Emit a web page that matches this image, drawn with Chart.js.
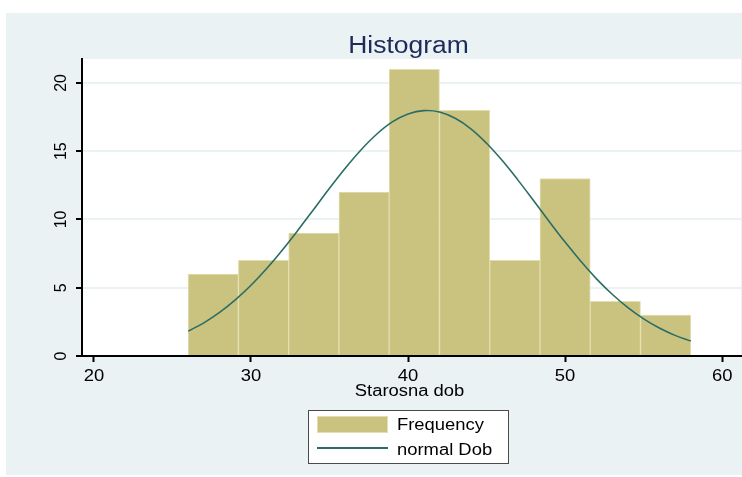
<!DOCTYPE html>
<html>
<head>
<meta charset="utf-8">
<script src="https://cdn.jsdelivr.net/npm/chart.js@4.4.0/dist/chart.umd.min.js"></script>
<style>
  html, body { margin: 0; padding: 0; background: #ffffff; }
  canvas { display: block; }
</style>
</head>
<body>
<canvas id="myChart" width="742" height="477"></canvas>
<script>
// histogram bins (Starosna dob) and counts
var binEdges = [26, 29.2, 32.4, 35.6, 38.8, 42, 45.2, 48.4, 51.6, 54.8, 58];
var counts = [6, 7, 9, 12, 21, 18, 7, 13, 4, 3];

// normal curve
var curveX = [26, 27, 28, 29, 30, 31, 32, 33, 34, 35, 36, 37, 38, 39, 40, 41,
              42, 43, 44, 45, 46, 47, 48, 49, 50, 51, 52, 53, 54, 55, 56, 57, 58];
var curveY = [1.82, 2.43, 3.19, 4.11, 5.18, 6.41, 7.77, 9.23, 10.75, 12.28, 13.75, 15.09, 16.24, 17.14, 17.72, 17.97,
              17.87, 17.41, 16.64, 15.58, 14.31, 12.88, 11.37, 9.83, 8.34, 6.94, 5.65, 4.52, 3.54, 2.72, 2.05, 1.51, 1.09];

var xTicks = [20, 30, 40, 50, 60];
var yTicks = [0, 5, 10, 15, 20];

var titleText = 'Histogram';
var xTitle = 'Starosna dob';

var barColor = '#cac380';
var lineColor = '#2b6d64';
var fontName = '"Liberation Sans", Arial, sans-serif';
var textStretch = 1.15;

var barData = [];
for (var i = 0; i < counts.length; i++) {
    barData.push({ x: (binEdges[i] + binEdges[i + 1]) / 2, y: counts[i] });
}
var lineData = [];
for (var j = 0; j < curveX.length; j++) {
    lineData.push({ x: curveX[j], y: curveY[j] });
}

function stretchText(ctx, text, x, y, size, color, align) {
    ctx.save();
    ctx.font = size + 'px ' + fontName;
    ctx.fillStyle = color;
    ctx.textBaseline = 'alphabetic';
    var w = ctx.measureText(text).width * textStretch;
    var left = x;
    if (align === 'center') left = x - w / 2;
    ctx.translate(left, y);
    ctx.scale(textStretch, 1);
    ctx.textAlign = 'left';
    ctx.fillText(text, 0, 0);
    ctx.restore();
}

var backgroundPlugin = {
    id: 'stataBackground',
    beforeDraw: function (chart) {
        var ctx = chart.ctx;
        var a = chart.chartArea;
        ctx.save();
        ctx.fillStyle = '#ffffff';
        ctx.fillRect(0, 0, chart.width, chart.height);
        ctx.fillStyle = '#eaf2f3';
        ctx.fillRect(6, 13, chart.width - 6, chart.height - 15);
        ctx.fillStyle = '#ffffff';
        ctx.fillRect(a.left, a.top, a.right - a.left, a.bottom - a.top);
        ctx.restore();
    }
};

var textPlugin = {
    id: 'stataText',
    afterDraw: function (chart) {
        var ctx = chart.ctx;
        var a = chart.chartArea;
        var xs = chart.scales.x;
        var ys = chart.scales.y;

        // title
        stretchText(ctx, titleText, (a.left + a.right) / 2 - 3, 53, 23, '#1c2b5a', 'center');

        // x tick labels
        xTicks.forEach(function (v) {
            stretchText(ctx, String(v), xs.getPixelForValue(v), 381, 16, '#000000', 'center');
        });

        // x axis title
        stretchText(ctx, xTitle, (a.left + a.right) / 2 - 2, 396, 16, '#000000', 'center');

        // y tick labels, rotated
        ctx.save();
        ctx.font = '16px ' + fontName;
        ctx.fillStyle = '#000000';
        ctx.textAlign = 'center';
        ctx.textBaseline = 'alphabetic';
        yTicks.forEach(function (v) {
            var py = ys.getPixelForValue(v);
            ctx.save();
            ctx.translate(66, py);
            ctx.rotate(-Math.PI / 2);
            ctx.fillText(String(v), 0, 0);
            ctx.restore();
        });
        ctx.restore();

        // legend
        var bars = chart.data.datasets[1];
        var line = chart.data.datasets[0];
        ctx.save();
        ctx.fillStyle = '#ffffff';
        ctx.fillRect(308, 410, 200, 53);
        ctx.strokeStyle = '#4a4a4a';
        ctx.lineWidth = 1;
        ctx.strokeRect(308.5, 410.5, 200, 53);
        ctx.fillStyle = bars.backgroundColor;
        ctx.fillRect(317, 416, 71, 17);
        ctx.strokeStyle = bars.borderColor;
        ctx.strokeRect(317.5, 416.5, 70, 16);
        ctx.strokeStyle = line.borderColor;
        ctx.lineWidth = 2;
        ctx.beginPath();
        ctx.moveTo(317, 448);
        ctx.lineTo(388, 448);
        ctx.stroke();
        ctx.restore();
        stretchText(ctx, bars.label, 397, 430, 16, '#000000', 'left');
        stretchText(ctx, line.label, 397, 455, 16, '#000000', 'left');
    }
};

var ctx = document.getElementById('myChart').getContext('2d');
var myChart = new Chart(ctx, {
    type: 'bar',
    data: {
        datasets: [
            {
                type: 'line',
                label: 'normal Dob',
                data: lineData,
                borderColor: lineColor,
                borderWidth: 1.6,
                pointRadius: 0,
                tension: 0.4,
                fill: false,
                order: 0
            },
            {
                type: 'bar',
                label: 'Frequency',
                data: barData,
                backgroundColor: barColor,
                borderColor: '#e2deaf',
                borderWidth: 1,
                barPercentage: 1,
                categoryPercentage: 1,
                order: 1
            }
        ]
    },
    options: {
        responsive: false,
        animation: false,
        devicePixelRatio: 1,
        layout: { padding: { left: 52, top: 59, right: 1, bottom: 0 } },
        plugins: {
            legend: { display: false },
            title: { display: false },
            tooltip: { enabled: false }
        },
        scales: {
            x: {
                type: 'linear',
                offset: false,
                min: 19.24,
                max: 61.2,
                afterBuildTicks: function (s) { s.ticks = xTicks.map(function (v) { return { value: v }; }); },
                afterFit: function (s) { s.height = 121; },
                ticks: { display: false },
                grid: { offset: false, drawOnChartArea: false, drawTicks: true, tickLength: 6, tickColor: '#000000', tickWidth: 2 },
                border: { color: '#000000', width: 2 }
            },
            y: {
                type: 'linear',
                min: 0,
                max: 21.75,
                afterBuildTicks: function (s) { s.ticks = yTicks.map(function (v) { return { value: v }; }); },
                afterFit: function (s) { s.width = 30; },
                ticks: { display: false },
                grid: { color: '#eaf2f3', lineWidth: 2, drawTicks: true, tickLength: 6, tickColor: '#000000', tickWidth: 2 },
                border: { color: '#000000', width: 2 }
            }
        }
    },
    plugins: [backgroundPlugin, textPlugin]
});
</script>
</body>
</html>
